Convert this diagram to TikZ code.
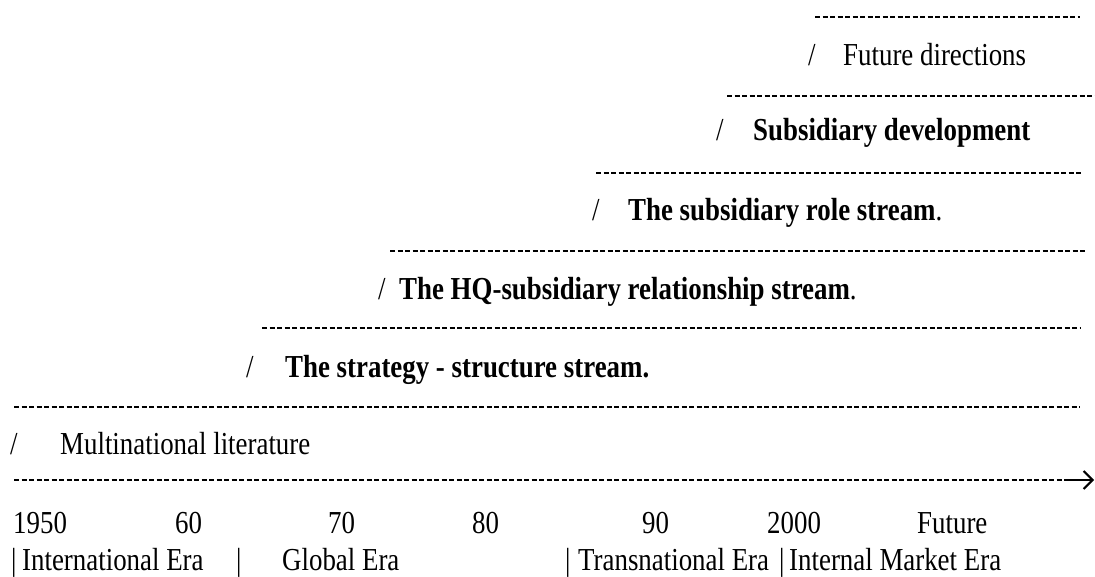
\documentclass[tikz,border=0pt]{standalone}
\usepackage{fontspec}
\setmainfont[FakeStretch=0.84]{Liberation Serif}
\usetikzlibrary{arrows.meta}
\tikzset{
 rule/.style={line width=2.4pt, dash pattern=on 5pt off 2.5pt},
 lbl/.style={anchor=base west, inner sep=0pt, font=\fontsize{32}{38}\selectfont}
}
\newcommand{\streamrow}[5]{% x slash, x text, baseline, name, text
\node[lbl] (#4s) at (#1,#3) {/};
\node[lbl] (#4) at (#2,#3) {#5};
}
\newcommand{\yearmark}[3]{% x, name, text
\node[lbl] (#2) at (#1,533) {#3};
}

\begin{document}
\begin{tikzpicture}[x=1pt,y=-1pt]
\useasboundingbox (0,0) rectangle (1095,577);

% dashed rules between the streams
\draw[rule] (815,17)--(1080,17);
\draw[rule] (727,96)--(1095,96);
\draw[rule] (596,173)--(1083,173);
\draw[rule] (390,251)--(1085,251);
\draw[rule] (262,328)--(1080,328);
\draw[rule] (14,407)--(1080,407);
\draw[rule] (14,480)--(1072,480);
\draw[line width=2pt,-{Straight Barb[length=9pt,width=18pt]}] (1068,480)--(1094,480);

\streamrow{808}{843}{66}{fut}{Future directions}
\streamrow{716}{753}{141}{dev}{\textbf{Subsidiary development}}
\streamrow{592}{628}{221}{role}{\textbf{The subsidiary role stream}.}
\streamrow{378}{399}{300}{hq}{\textbf{The HQ-subsidiary relationship stream}.}
\streamrow{246}{285}{377}{strat}{\textbf{The strategy - structure stream.}}
\streamrow{10}{60}{454}{multi}{Multinational literature}

% time axis
\yearmark{13}{y50}{1950}
\yearmark{175}{y60}{60}
\yearmark{328}{y70}{70}
\yearmark{472}{y80}{80}
\yearmark{642}{y90}{90}
\yearmark{767}{y00}{2000}
\yearmark{917}{yfut}{Future}

% eras
\node[lbl] (b1) at (11,570) {|};
\node[lbl] (intl) at (22,570) {International Era};
\node[lbl] (b2) at (236,570) {|};
\node[lbl] (glob) at (282,570) {Global Era};
\node[lbl] (b3) at (565,570) {|};
\node[lbl] (trans) at (578,570) {Transnational Era};
\node[lbl] (b4) at (779,570) {|};
\node[lbl] (intm) at (789,570) {Internal Market Era};
\end{tikzpicture}
\end{document}
